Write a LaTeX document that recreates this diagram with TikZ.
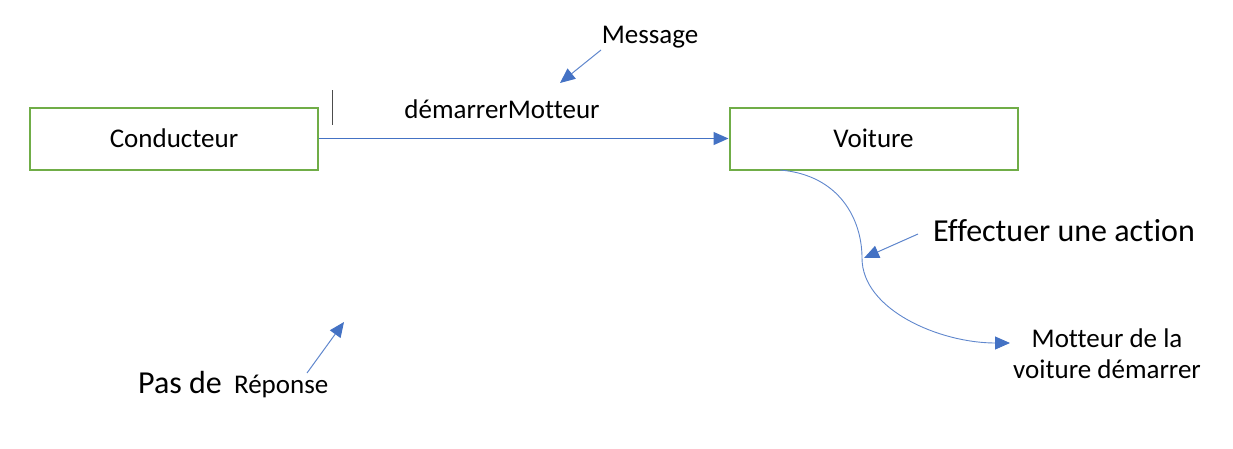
\documentclass[tikz,border=0pt]{standalone}
\usepackage{fontspec}
\setmainfont{Carlito}[Ligatures=NoCommon]
\usetikzlibrary{arrows.meta}
\definecolor{boxgreen}{HTML}{70AD47}
\definecolor{arrblue}{HTML}{4472C4}
\begin{document}
\begin{tikzpicture}[x=1pt,y=-1pt,
  objbox/.style={draw=boxgreen,line width=2pt,minimum width=288pt,minimum height=62pt,inner sep=0pt,font=\fontsize{27}{32}\selectfont},
  lbl/.style={inner sep=0pt,font=\fontsize{27}{32}\selectfont},
  biglbl/.style={inner sep=0pt,font=\fontsize{32}{38}\selectfont},
  conn/.style={draw=arrblue,line width=1.2pt,-{Triangle[length=15pt,width=13pt]}},
  thin/.style={draw=arrblue!85,line width=1pt,-{Triangle[length=15pt,width=13pt,color=arrblue,fill=arrblue]}}]
\useasboundingbox (0,0) rectangle (1233,448);
\node[objbox] (cond) at (174,138.5) {Conducteur};
\node[objbox] (voit) at (873.5,138.5) {Voiture};
\node[lbl] (dm) at (502,109) {démarrerMotteur};
\node[lbl] (msg) at (650,37) {Message};
\node[biglbl,anchor=west] (eff) at (933,231) {Effectuer une action};
\node[lbl,align=center,anchor=west] (mot) at (1013,354) {Motteur de la\\[-1pt]voiture démarrer};
\node[inner sep=0pt,anchor=west] (pas) at (138,385) {\fontsize{32}{38}\selectfont Pas de\hspace{5pt} \fontsize{27}{32}\selectfont Réponse};
\coordinate (bar1) at (332,90);
\coordinate (bar2) at (332,125);
\coordinate (msgtip) at (560,83);
\coordinate (msgstart) at (601,50);
\coordinate (cstart) at (780,170);
\coordinate (cmid) at (862,258);
\coordinate (ctip) at (1010,343);
\coordinate (efftip) at (864,258);
\coordinate (pastip) at (344,322);
\coordinate (passtart) at (307,373);
% message arrow
\draw[conn] (cond.east) -- (voit.west);
\draw[black!70,line width=1pt] (bar1) -- (bar2);
\draw[thin] (msgstart) -- (msgtip);
% action curve
\draw[thin,line width=0.9pt] (cstart) .. controls (840,175) and (862,220) .. (cmid) .. controls (862,310) and (940,343) .. (ctip);
\draw[thin] (eff.west) ++(-15,3) -- (efftip);
\draw[thin] (passtart) -- (pastip);
\end{tikzpicture}
\end{document}
